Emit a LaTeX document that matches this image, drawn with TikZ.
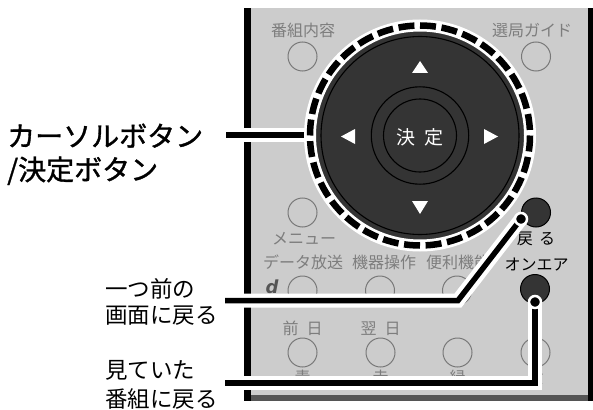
\documentclass[tikz,border=0pt]{standalone}
\usepackage{fontspec}
\setmainfont{Noto Sans CJK JP}
\newfontfamily\logofont{DejaVu Sans}
\newfontfamily\heavyfont[FakeBold=1.2]{Noto Sans CJK JP}
\definecolor{panel}{RGB}{204,204,204}
\definecolor{dark}{RGB}{52,52,52}
\definecolor{btnline}{RGB}{120,120,120}
\definecolor{ptext}{RGB}{125,125,125}
\definecolor{strip}{RGB}{85,85,85}
\tikzset{
  gbtn/.style={circle, draw=btnline, line width=1, minimum size=29, inner sep=0},
  dbtn/.style={circle, draw=black, fill=dark, line width=1, minimum size=29, inner sep=0},
  ptxt/.style={text=ptext, font=\fontsize{16}{16}\selectfont, anchor=base, inner sep=0},
  btxt/.style={text=black, font=\fontsize{16}{16}\selectfont, anchor=base, inner sep=0},
  bigtxt/.style={font=\heavyfont\fontsize{28}{28}\selectfont, anchor=base west, inner sep=0},
  midtxt/.style={font=\fontsize{22.5}{22.5}\selectfont, anchor=base west, inner sep=0},
  halo/.style={white, line width=14},
  conn/.style={black, line width=5.5},
  dot/.style={circle, fill=black, draw=white, line width=2.5, minimum size=12, inner sep=0},
  thinring/.style={black, line width=1.1},
  arrowtri/.style={fill=white}
}
\begin{document}
\begin{tikzpicture}[x=1pt,y=-1pt]
\useasboundingbox (0,0) rectangle (593,409);
% panel
\fill[panel] (244,8) rectangle (593,395);
\fill[strip] (244,395) rectangle (593,401);
\fill[black] (244,8) rectangle (251,401);
\fill[black] (588,8) rectangle (593,401);
% panel texts
\node[ptxt] (t1) at (303,37) {番組内容};
\node[ptxt] (t2) at (532,37) {選局ガイド};
\node[ptxt] (t3) at (304,244.5) {メニュー};
\node[ptxt] (t4) at (303,268.5) {データ放送};
\node[ptxt] (t5) at (384,268.5) {機器操作};
\node[ptxt] (t6) at (458,268.5) {便利機能};
\node[ptxt] (t7) at (302.5,334) {前\hspace{0.5em}日};
\node[ptxt] (t8) at (380.5,334) {翌\hspace{0.5em}日};
\node[ptxt] (t9) at (302.5,383) {青};
\node[ptxt] (t10) at (380.5,383) {赤};
\node[ptxt] (t11) at (457.5,383) {緑};
\node[ptxt] (t12) at (535.5,383) {黄};
\node[btxt] (t13) at (536,244.5) {戻\hspace{0.4em}る};
\node[btxt] (t14) at (536.5,270.5) {オンエア};
\node[text=strip, font=\logofont\bfseries\itshape\fontsize{18}{18}\selectfont, inner sep=0] (logo) at (272,287) {d};
% gray buttons
\node[gbtn] (b1) at (302.5,56.5) {};
\node[gbtn] (b2) at (536,56.5) {};
\node[gbtn] (b3) at (302.5,212.5) {};
\node[gbtn] (b4) at (302.5,290.5) {};
\node[gbtn] (b5) at (380,290.5) {};
\node[gbtn] (b6) at (457,290.5) {};
\node[gbtn] (b7) at (302.5,352.5) {};
\node[gbtn] (b8) at (380.5,352.5) {};
\node[gbtn] (b9) at (457.5,352.5) {};
\node[gbtn] (b10) at (535.5,352.5) {};
% dark buttons
\node[dbtn] (back) at (536,212.5) {};
\node[dbtn] (onair) at (535,289) {};
% labels
\node[bigtxt] (l1) at (7,146.5) {カーソルボタン};
\node[bigtxt] (l2) at (7,180) {/決定ボタン};
\node[midtxt] (l3) at (105,297) {一つ前の};
\node[midtxt] (l4) at (105,323.5) {画面に戻る};
\node[midtxt] (l5) at (105,378.5) {見ていた};
\node[midtxt] (l6) at (105,407) {番組に戻る};
% cursor connector
\coordinate (ctr) at (420,135.5);
\coordinate (e0) at (226,135);
\coordinate (r0) at (306,135);
\draw[halo] (e0) -- (r0);
\draw[conn] (e0) -- (r0);
% cursor pad
\fill[dark] (ctr) circle (105);
\draw[white, line width=12] (ctr) circle (110);
\draw[black, line width=6.5, dash pattern=on 16pt off 5.6pt] (ctr) circle (110);
\draw[thinring] (ctr) circle (99);
\draw[thinring] (ctr) circle (48.7);
\draw[thinring] (ctr) circle (36.5);
\fill[arrowtri] (412,73) -- (428,73) -- (420,61) -- cycle;
\fill[arrowtri] (412,201) -- (428,201) -- (420,214) -- cycle;
\fill[arrowtri] (355,129) -- (355,144) -- (341,136.5) -- cycle;
\fill[arrowtri] (484,129) -- (484,144) -- (498,136.5) -- cycle;
\node[text=white, font=\fontsize{19}{19}\selectfont, anchor=base, inner sep=0] (ok) at (420,144.5) {決\hspace{0.5em}定};
% connectors to back / on-air
\coordinate (p1) at (521,219);
\coordinate (k1) at (458,300.5);
\coordinate (e1) at (225,300.5);
\coordinate (p2) at (535,302);
\coordinate (k2) at (535,383);
\coordinate (e2) at (225,383);
\draw[halo] (p1) -- (k1) -- (e1);
\draw[halo] (p2) -- (k2) -- (e2);
\draw[conn] (p1) -- (k1) -- (e1);
\draw[conn] (p2) -- (k2) -- (e2);
\node[dot] (d1) at (p1) {};
\node[dot] (d2) at (p2) {};
\end{tikzpicture}
\end{document}
